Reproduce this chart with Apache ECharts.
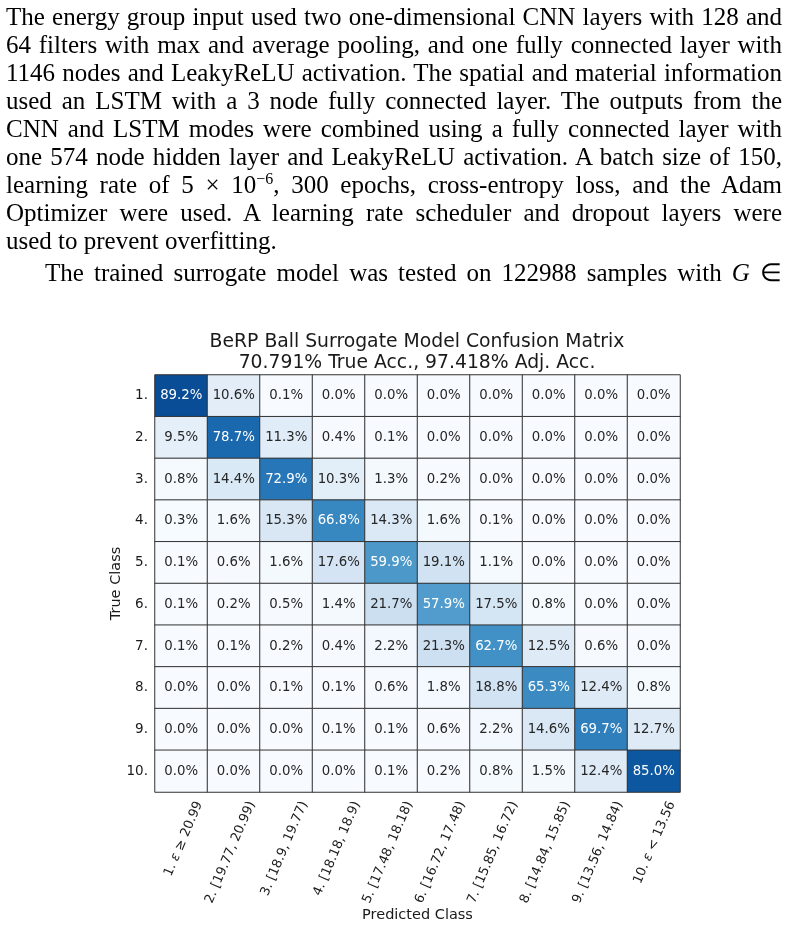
<!DOCTYPE html>
<html>
<head>
<meta charset="utf-8">
<script src="https://cdn.jsdelivr.net/npm/echarts@6/dist/echarts.min.js"></script>
<style>
body { margin: 0; background: #fff; }
#page { position: relative; width: 788px; height: 929px; overflow: hidden; }
#chart { position: absolute; left: 0; top: 0; width: 788px; height: 929px; }
#text { position: absolute; left: 6px; top: 3px; width: 776px; font-family: "Liberation Serif", serif; font-size: 25px; line-height: 28px; color: #000; }
.j { text-align: justify; text-align-last: justify; }
.l { text-align: left; }
.ind { text-indent: 39px; margin-top: 4px; }
sup { font-size: 16px; position: relative; top: -9px; vertical-align: baseline; line-height: 0; }
</style>
</head>
<body>
<div id="page">
  <div id="chart"></div>
  <div id="text">
    <div class="j">The energy group input used two one-dimensional CNN layers with 128 and</div>
    <div class="j">64 filters with max and average pooling, and one fully connected layer with</div>
    <div class="j">1146 nodes and LeakyReLU activation. The spatial and material information</div>
    <div class="j">used an LSTM with a 3 node fully connected layer. The outputs from the</div>
    <div class="j">CNN and LSTM modes were combined using a fully connected layer with</div>
    <div class="j">one 574 node hidden layer and LeakyReLU activation. A batch size of 150,</div>
    <div class="j">learning rate of 5 × 10<sup>−6</sup>, 300 epochs, cross-entropy loss, and the Adam</div>
    <div class="j">Optimizer were used. A learning rate scheduler and dropout layers were</div>
    <div class="l">used to prevent overfitting.</div>
    <div class="j ind">The trained surrogate model was tested on 122988 samples with <i>G</i> ∈</div>
  </div>
</div>
<script>
// class labels
var trueClasses = ['1.', '2.', '3.', '4.', '5.', '6.', '7.', '8.', '9.', '10.'];
var predClasses = ['1. ε ≥ 20.99', '2. [19.77, 20.99)', '3. [18.9, 19.77)', '4. [18.18, 18.9)',
	'5. [17.48, 18.18)', '6. [16.72, 17.48)', '7. [15.85, 16.72)', '8. [14.84, 15.85)',
	'9. [13.56, 14.84)', '10. ε < 13.56'];

// percent per true class (row), predicted class (column)
var row1 = [89.2, 10.6, 0.1, 0.0, 0.0, 0.0, 0.0, 0.0, 0.0, 0.0];
var row2 = [9.5, 78.7, 11.3, 0.4, 0.1, 0.0, 0.0, 0.0, 0.0, 0.0];
var row3 = [0.8, 14.4, 72.9, 10.3, 1.3, 0.2, 0.0, 0.0, 0.0, 0.0];
var row4 = [0.3, 1.6, 15.3, 66.8, 14.3, 1.6, 0.1, 0.0, 0.0, 0.0];
var row5 = [0.1, 0.6, 1.6, 17.6, 59.9, 19.1, 1.1, 0.0, 0.0, 0.0];
var row6 = [0.1, 0.2, 0.5, 1.4, 21.7, 57.9, 17.5, 0.8, 0.0, 0.0];
var row7 = [0.1, 0.1, 0.2, 0.4, 2.2, 21.3, 62.7, 12.5, 0.6, 0.0];
var row8 = [0.0, 0.0, 0.1, 0.1, 0.6, 1.8, 18.8, 65.3, 12.4, 0.8];
var row9 = [0.0, 0.0, 0.0, 0.1, 0.1, 0.6, 2.2, 14.6, 69.7, 12.7];
var row10 = [0.0, 0.0, 0.0, 0.0, 0.1, 0.2, 0.8, 1.5, 12.4, 85.0];

var blues = ['#f7fbff', '#deebf7', '#c6dbef', '#9ecae1', '#6baed6', '#4292c6', '#2171b5', '#08519c', '#08306b'];
var font = 'DejaVu Sans';

var myChart = echarts.init(document.getElementById('chart'));

var rows = [row1, row2, row3, row4, row5, row6, row7, row8, row9, row10];
var heatmapData = [];
for (var r = 0; r < rows.length; r++) {
	for (var c = 0; c < rows[r].length; c++) {
		var v = rows[r][c];
		heatmapData.push({
			value: [c, r, v],
			label: { color: v > 40 ? '#ffffff' : '#262626' }
		});
	}
}

var option = {
	animation: false,
	title: {
		text: 'BeRP Ball Surrogate Model Confusion Matrix\n70.791% True Acc., 97.418% Adj. Acc.',
		left: 412,
		top: 327,
		textAlign: 'center',
		textStyle: { fontFamily: font, fontSize: 18.8, lineHeight: 21, fontWeight: 'normal', color: '#1a1a1a' }
	},
	grid: [
		{ left: 155, top: 375, width: 525, height: 417, outerBoundsMode: 'none' },
		// second grid only carries the shifted rotated labels
		{ left: 173, top: 375, width: 525, height: 417, outerBoundsMode: 'none' }
	],
	xAxis: [
		{
			type: 'category', gridIndex: 0, data: predClasses,
			axisLine: { show: false }, axisTick: { show: false }, axisLabel: { show: false }, splitLine: { show: false },
			name: 'Predicted Class', nameLocation: 'middle', nameGap: 116, nameMoveOverlap: false,
			nameTextStyle: { fontFamily: font, fontSize: 14.5, color: '#1a1a1a' }
		},
		{
			type: 'category', gridIndex: 1, data: predClasses,
			axisLine: { show: false }, axisTick: { show: false }, splitLine: { show: false },
			axisLabel: {
				rotate: 67, margin: 10, interval: 0,
				fontFamily: font, fontSize: 13, color: '#1a1a1a',
				formatter: function (value) {
					return value.replace('ε', '{i|ε}');
				},
				rich: { i: { fontFamily: font, fontSize: 13, fontStyle: 'italic', color: '#1a1a1a' } }
			}
		}
	],
	yAxis: [
		{
			type: 'category', gridIndex: 0, data: trueClasses, inverse: true,
			axisLine: { show: false }, axisTick: { show: false }, splitLine: { show: false },
			axisLabel: { margin: 7, fontFamily: font, fontSize: 13.5, color: '#1a1a1a' },
			name: 'True Class', nameLocation: 'middle', nameGap: 31, nameMoveOverlap: false,
			nameTextStyle: { fontFamily: font, fontSize: 14.5, color: '#1a1a1a' }
		},
		{ type: 'category', gridIndex: 1, data: trueClasses, inverse: true, show: false }
	],
	visualMap: {
		show: false, min: 0, max: 100, dimension: 2, seriesIndex: 0,
		inRange: { color: blues }
	},
	series: [{
		type: 'heatmap',
		xAxisIndex: 0,
		yAxisIndex: 0,
		data: heatmapData,
		label: {
			show: true, fontFamily: font, fontSize: 13.3,
			formatter: function (p) { return p.value[2].toFixed(1) + '%'; }
		},
		itemStyle: { borderColor: '#333333', borderWidth: 1 },
		emphasis: { disabled: true }
	}]
};

myChart.setOption(option);
</script>
</body>
</html>
